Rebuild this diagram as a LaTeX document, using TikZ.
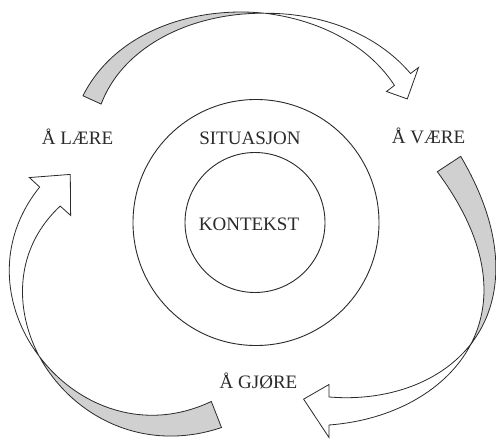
\documentclass[tikz,border=0pt]{standalone}
\usepackage{fontspec}
\setmainfont{Liberation Serif}
\usetikzlibrary{calc}
\definecolor{ink}{HTML}{2A2A2A}
\definecolor{ribfill}{HTML}{D0D0D0}
\tikzset{
  lbl/.style={anchor=base, inner sep=0pt, text=ink, font=\fontsize{19}{22}\selectfont},
  ring/.style={circle, draw=ink, line width=0.9pt, inner sep=0pt, outer sep=0pt},
  ribgrey/.style={fill=ribfill, draw=ink, line width=0.8pt},
  ribwhite/.style={fill=white, draw=ink, line width=0.8pt},
}
\newcommand\ribbonparams[5]{\def\rbW{#1}\def\rbST{#2}\def\rbHB{#3}\def\rbHL{#4}\def\rbA{#5}}
\newcommand\ribbon[8]{%
\begin{scope}[declare function={
 ra(\u)=1-\u;
 rbx(\u)=ra(\u)*ra(\u)*ra(\u)*(#1)+3*ra(\u)*ra(\u)*\u*(#3)+3*ra(\u)*\u*\u*(#5)+\u*\u*\u*(#7);
 rby(\u)=ra(\u)*ra(\u)*ra(\u)*(#2)+3*ra(\u)*ra(\u)*\u*(#4)+3*ra(\u)*\u*\u*(#6)+\u*\u*\u*(#8);
 rdx(\u)=0.03*(ra(\u)*ra(\u)*((#3)-(#1))+2*ra(\u)*\u*((#5)-(#3))+\u*\u*((#7)-(#5)));
 rdy(\u)=0.03*(ra(\u)*ra(\u)*((#4)-(#2))+2*ra(\u)*\u*((#6)-(#4))+\u*\u*((#8)-(#6)));
 rnn(\u)=sqrt(rdx(\u)*rdx(\u)+rdy(\u)*rdy(\u));
 rtx(\u)=rdx(\u)/rnn(\u);
 rty(\u)=rdy(\u)/rnn(\u);
 rnx(\u)=-rty(\u);
 rny(\u)=rtx(\u);
 rhg(\u)=\rbW*(1-\u/\rbST);
 rhw(\u)=\rbW*(\u-\rbST)/(1-\rbST);
}]
\filldraw[ribgrey]
  plot[variable=\s, domain=0:\rbST, samples=40] ({rbx(\s)+rhg(\s)*rnx(\s)},{rby(\s)+rhg(\s)*rny(\s)})
  -- plot[variable=\s, domain=\rbST:0, samples=40] ({rbx(\s)-rhg(\s)*rnx(\s)},{rby(\s)-rhg(\s)*rny(\s)})
  -- cycle;
\filldraw[ribwhite]
  plot[variable=\s, domain=\rbST:1, samples=40] ({rbx(\s)+rhw(\s)*rnx(\s)},{rby(\s)+rhw(\s)*rny(\s)})
  -- ({rbx(1)+\rbHB*rnx(1)},{rby(1)+\rbHB*rny(1)})
  -- ({rbx(1)+\rbHL*(cos(\rbA)*rtx(1)+sin(\rbA)*rnx(1))},{rby(1)+\rbHL*(cos(\rbA)*rty(1)+sin(\rbA)*rny(1))})
  -- ({rbx(1)-\rbHB*rnx(1)},{rby(1)-\rbHB*rny(1)})
  -- plot[variable=\s, domain=1:\rbST, samples=40] ({rbx(\s)-rhw(\s)*rnx(\s)},{rby(\s)-rhw(\s)*rny(\s)})
  -- cycle;
\end{scope}}
\begin{document}
\begin{tikzpicture}[x=1pt,y=-1pt]
\useasboundingbox (0,0) rectangle (496,439);
\clip (0,0) rectangle (496,439);
\fill[white] (0,0) rectangle (496,439);

% circles
\node[ring, minimum size=246pt] (sitcircle) at (256,222.5) {};
\node[ring, minimum size=140pt] (kontcircle) at (255,222.5) {};

% labels
\node[lbl] (laere) at (77.5,144) {Å LÆRE};
\node[lbl] (situasjon) at (250,144) {SITUASJON};
\node[lbl] (vaere) at (428.5,143.5) {Å VÆRE};
\node[lbl] (kontekst) at (249,230) {KONTEKST};
\node[lbl] (gjore) at (258.5,388) {Å GJØRE};

% top arrow: Å LÆRE -> Å VÆRE
\ribbonparams{10}{0.57}{20}{20}{23}
\ribbon{92}{100}{140}{-8}{330.5}{-16.5}{402.5}{79.5}

% right arrow: Å VÆRE -> Å GJØRE
\ribbonparams{14}{0.5}{26.5}{28}{25}
\ribbon{449}{164}{548}{314}{449}{411}{329}{411}

% left arrow: Å GJØRE -> Å LÆRE
\ribbonparams{14}{0.53}{28}{30}{0}
\ribbon{216.5}{414.5}{77}{470}{-45}{300}{50}{196.5}
\end{tikzpicture}
\end{document}
